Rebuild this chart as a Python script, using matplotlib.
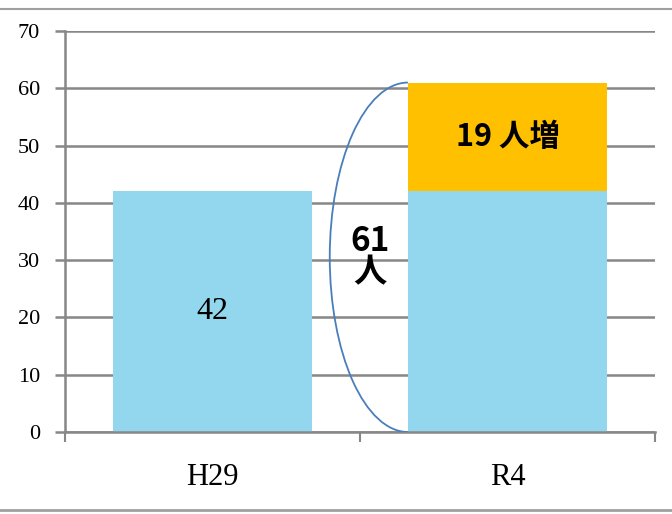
import matplotlib.pyplot as plt
from matplotlib.patches import Arc
from matplotlib.lines import Line2D

categories = ['H29', 'R4']
base_values = [42, 42]
increase_values = [0, 19]
total_r4 = 61
yticks = [0, 10, 20, 30, 40, 50, 60, 70]

blue = '#92D7EE'
orange = '#FFC000'
grid_gray = '#878787'
serif = 'Liberation Serif'
gothic = ['Noto Sans CJK JP', 'DejaVu Sans']

fig = plt.figure(figsize=(6.72, 5.14), dpi=100)
ax = fig.add_axes([0.0967, 0.1595, 0.878, 0.7802])

x = list(range(len(categories)))
width = 0.675
ax.bar(x, base_values, width=width, color=blue, zorder=2)
ax.bar(x, increase_values, width=width, bottom=base_values, color=orange, zorder=2)

ax.set_xlim(-0.5, 1.5)
ax.set_ylim(0, 70)
ax.set_yticks(yticks)
ax.set_yticklabels([str(v) for v in yticks], fontfamily=serif, fontsize=16)
ax.yaxis.grid(True, color=grid_gray, linewidth=1.8, zorder=0)
ax.set_axisbelow(True)

ax.set_xticks([-0.5, 0.5, 1.5])
ax.set_xticklabels(['', '', ''])
ax.set_xticks(x, minor=True)
ax.set_xticklabels(categories, minor=True, fontfamily=serif, fontsize=22)
ax.tick_params(axis='x', which='minor', length=0, pad=22)
ax.tick_params(axis='x', which='major', length=7, width=1.5, color=grid_gray)
ax.tick_params(axis='y', length=7, width=1.8, color=grid_gray, pad=11)

for side in ['top', 'right']:
    ax.spines[side].set_visible(False)
for side in ['left', 'bottom']:
    ax.spines[side].set_color(grid_gray)
    ax.spines[side].set_linewidth(1.8)

# value labels
ax.text(0, base_values[0] / 2, str(base_values[0]), ha='center', va='center',
        fontfamily=serif, fontsize=23)
ax.text(1, base_values[1] + increase_values[1] / 2, f'{increase_values[1]} 人増',
        ha='center', va='center', family=gothic, fontweight='bold', fontsize=22)

# brace-like arc around R4 total
left_edge = 1 - width / 2
arc = Arc((left_edge, total_r4 / 2), 0.53, total_r4, theta1=90, theta2=270,
          color='#4A7EBB', linewidth=1.3, zorder=3)
ax.add_patch(arc)
ax.text(0.534, 30.5, f'{total_r4}\n人', ha='center', va='center', family=gothic,
        fontweight='bold', fontsize=24, linespacing=0.95)

# frame lines of the original slide
fig.add_artist(Line2D([0, 1], [0.9825, 0.9825], color='#A0A0A0', linewidth=1.5))
fig.add_artist(Line2D([0, 1], [0.0078, 0.0078], color='#A0A0A0', linewidth=2))

fig.savefig('out.png', dpi=100)
